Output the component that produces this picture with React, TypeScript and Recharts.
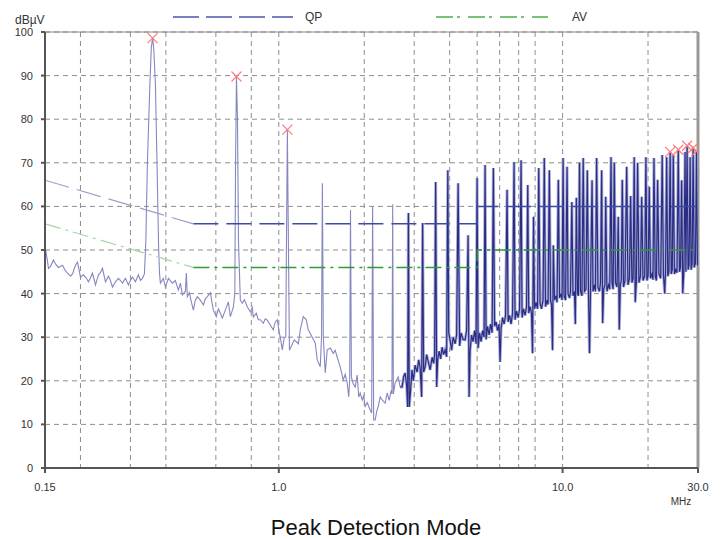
import {
  CartesianGrid,
  ComposedChart,
  Line,
  ReferenceLine,
  Scatter,
  XAxis,
  YAxis,
} from "recharts";

type Pt = [number, number];

// [MHz, dBµV], below ~2.7 MHz (drawn light)
const lowBand: Pt[] = [
  [0.1506, 50.2], [0.153, 47.5], [0.1543, 45.8], [0.1568, 46.2], [0.1606, 47.7],
  [0.1633, 46.8], [0.1673, 46.0], [0.1729, 46.5], [0.1771, 45.2], [0.18, 44.7],
  [0.1845, 44.0], [0.1875, 44.5], [0.1921, 46.5], [0.1953, 47.2], [0.1984, 45.0],
  [0.2, 43.8], [0.2049, 44.3], [0.21, 43.5], [0.2134, 42.7], [0.2169, 43.6],
  [0.2204, 44.7], [0.2259, 42.0], [0.2315, 44.3], [0.2352, 44.8], [0.2391, 45.8],
  [0.245, 42.7], [0.251, 44.0], [0.2551, 43.0], [0.2593, 41.5], [0.2657, 42.7],
  [0.2722, 43.5], [0.2766, 43.0], [0.2812, 42.4], [0.2881, 43.5], [0.2952, 42.0],
  [0.3, 43.0], [0.3049, 43.8], [0.3124, 42.7], [0.3201, 44.3], [0.3253, 43.0],
  [0.3307, 43.5], [0.336, 44.5], [0.34, 52.0], [0.3443, 70.0], [0.3513, 88.0],
  [0.3554, 96.5], [0.3592, 98.6], [0.3627, 96.0], [0.3674, 88.0], [0.3722, 70.0],
  [0.3771, 50.5], [0.38, 44.5], [0.3826, 42.4], [0.392, 43.5], [0.3984, 41.5],
  [0.4083, 43.5], [0.4217, 42.4], [0.432, 43.0], [0.4426, 40.8], [0.4499, 42.4],
  [0.4573, 39.7], [0.4685, 40.5], [0.4723, 44.7], [0.4761, 39.3], [0.4839, 40.2],
  [0.4918, 38.1], [0.4998, 36.2], [0.5081, 38.5], [0.5164, 39.3], [0.5291, 38.5],
  [0.5421, 37.4], [0.551, 38.8], [0.56, 39.3], [0.5738, 40.2], [0.5831, 37.5],
  [0.5879, 36.2], [0.6024, 34.7], [0.6122, 36.5], [0.6222, 35.5], [0.6324, 34.4],
  [0.648, 36.2], [0.664, 38.1], [0.6748, 34.7], [0.6914, 36.9], [0.6999, 40.0],
  [0.704, 70.0], [0.7092, 89.8], [0.715, 80.0], [0.721, 52.0], [0.7317, 38.5],
  [0.7436, 37.8], [0.7559, 38.6], [0.7745, 37.0], [0.7935, 35.8], [0.8065, 36.8],
  [0.8129, 34.6], [0.8331, 35.5], [0.8467, 34.0], [0.8605, 34.0], [0.8818, 33.2],
  [0.8961, 34.2], [0.9107, 33.9], [0.9332, 32.8], [0.9563, 31.7], [0.9718, 33.5],
  [0.9876, 34.0], [1.0037, 31.0], [1.012, 30.0], [1.0285, 27.1], [1.0453, 30.0],
  [1.0581, 30.0], [1.065, 55.0], [1.0719, 77.6], [1.0797, 55.0], [1.09, 27.0],
  [1.1335, 29.4], [1.1724, 28.5], [1.1901, 31.7], [1.2196, 34.7], [1.2494, 34.0],
  [1.27, 31.7], [1.3116, 30.0], [1.3439, 28.7], [1.3658, 24.8], [1.3995, 23.2],
  [1.414, 30.0], [1.424, 65.3], [1.435, 30.0], [1.4574, 21.8], [1.4812, 27.1],
  [1.5177, 27.5], [1.5551, 26.3], [1.5805, 27.0], [1.6062, 25.4], [1.6458, 23.2],
  [1.6864, 20.2], [1.7139, 21.5], [1.7418, 19.5], [1.763, 16.3], [1.777, 20.0],
  [1.789, 59.2], [1.802, 20.9], [1.8288, 19.3], [1.8586, 18.6], [1.8889, 21.3],
  [1.912, 16.3], [1.9355, 17.2], [1.9671, 15.6], [1.991, 16.5], [2.0155, 14.1],
  [2.0483, 15.0], [2.0989, 13.3], [2.124, 12.6], [2.141, 60.1], [2.159, 11.0],
  [2.1857, 11.0], [2.213, 13.0], [2.24, 14.1], [2.2761, 16.3], [2.313, 15.6],
  [2.3703, 14.9], [2.409, 17.2], [2.448, 15.5], [2.488, 17.8], [2.504, 17.0],
  [2.519, 60.5], [2.533, 17.0], [2.5704, 19.5], [2.634, 20.9], [2.6767, 18.6],
];

// [MHz, dBµV] from ~2.7 MHz to 30 MHz (drawn dark)
const highBand: Pt[] = [
  [2.6767, 18.6], [2.72, 18.6], [2.752, 20.9], [2.787, 21.8], [2.821, 19.0],
  [2.844, 14.0], [2.862, 58.5], [2.882, 14.0], [2.914, 18.0], [2.946, 22.5],
  [2.98, 20.0], [3.023, 23.6], [3.072, 22.0], [3.11, 24.8], [3.148, 23.0],
  [3.186, 16.3], [3.212, 56.2], [3.238, 22.0], [3.278, 23.2], [3.318, 26.0],
  [3.359, 24.5], [3.414, 22.5], [3.469, 25.4], [3.512, 24.0], [3.541, 26.0],
  [3.57, 65.6], [3.6, 18.6], [3.629, 24.8], [3.673, 26.8], [3.717, 25.0],
  [3.762, 27.7], [3.808, 26.0], [3.855, 27.1], [3.902, 25.5], [3.94, 68.3],
  [3.969, 31.0], [4.014, 29.4], [4.063, 27.0], [4.113, 30.0], [4.181, 28.5],
  [4.232, 30.5], [4.284, 65.3], [4.336, 28.0], [4.389, 31.0], [4.46, 29.5],
  [4.534, 29.4], [4.589, 31.5], [4.645, 53.4], [4.683, 16.3], [4.721, 27.0],
  [4.779, 30.5], [4.837, 29.0], [4.896, 31.5], [4.956, 28.5], [4.997, 66.5],
  [5.037, 27.5], [5.098, 31.0], [5.161, 29.0], [5.224, 31.5], [5.288, 30.0],
  [5.331, 69.5], [5.375, 29.5], [5.441, 32.5], [5.508, 30.5], [5.575, 33.0],
  [5.644, 31.0], [5.703, 68.8], [5.758, 32.5], [5.829, 33.5], [5.9, 31.5],
  [5.972, 33.0], [6.021, 24.3], [6.069, 32.0], [6.144, 34.5], [6.219, 33.0],
  [6.295, 35.0], [6.373, 63.8], [6.425, 33.5], [6.504, 35.0], [6.582, 33.0],
  [6.663, 35.5], [6.745, 70.2], [6.799, 34.0], [6.882, 36.0], [6.967, 34.5],
  [7.052, 36.5], [7.139, 70.6], [7.197, 34.5], [7.285, 36.5], [7.373, 35.0],
  [7.464, 37.0], [7.537, 64.9], [7.598, 35.5], [7.678, 37.0], [7.772, 35.5],
  [7.836, 26.3], [7.9, 57.6], [7.963, 36.5], [8.061, 38.0], [8.16, 36.5],
  [8.24, 68.8], [8.327, 37.8], [8.428, 36.5], [8.532, 38.5], [8.62, 71.1],
  [8.706, 37.0], [8.813, 38.5], [8.885, 37.5], [8.98, 68.3], [9.067, 38.5],
  [9.141, 37.5], [9.216, 27.0], [9.276, 51.1], [9.366, 38.5], [9.481, 39.5],
  [9.558, 38.0], [9.66, 66.1], [9.756, 39.0], [9.876, 40.0], [9.957, 38.5],
  [10.04, 71.1], [10.12, 39.5], [10.24, 38.5], [10.37, 69.1], [10.45, 40.0],
  [10.58, 39.0], [10.66, 40.5], [10.78, 61.0], [10.88, 39.5], [11.01, 40.5],
  [11.09, 33.0], [11.18, 62.0], [11.28, 40.0], [11.37, 39.5], [11.47, 70.0],
  [11.56, 40.5], [11.7, 39.5], [11.82, 71.1], [11.94, 40.5], [12.09, 41.0],
  [12.22, 68.3], [12.34, 40.0], [12.44, 26.3], [12.54, 40.5], [12.7, 66.0],
  [12.8, 40.5], [12.95, 42.0], [13.05, 40.5], [13.18, 71.1], [13.32, 41.5],
  [13.48, 40.5], [13.6, 42.5], [13.73, 68.3], [13.84, 33.2], [13.95, 41.0],
  [14.1, 42.0], [14.19, 62.2], [14.33, 40.5], [14.51, 42.0], [14.66, 41.0],
  [14.81, 71.3], [14.93, 42.5], [15.07, 41.0], [15.21, 70.0], [15.36, 42.5],
  [15.55, 41.5], [15.71, 57.6], [15.84, 31.7], [15.97, 42.0], [16.1, 43.0],
  [16.23, 66.1], [16.39, 41.5], [16.59, 43.0], [16.82, 69.1], [16.99, 42.0],
  [17.2, 43.5], [17.37, 62.4], [17.55, 42.5], [17.72, 43.5], [17.88, 71.3],
  [18.03, 38.0], [18.2, 43.0], [18.38, 70.0], [18.58, 42.5], [18.81, 44.0],
  [19.0, 62.2], [19.2, 43.0], [19.47, 44.0], [19.66, 71.3], [19.82, 43.0],
  [20.02, 44.2], [20.2, 64.5], [20.4, 43.5], [20.65, 44.5], [20.82, 43.2],
  [20.99, 71.1], [21.2, 44.0], [21.41, 43.0], [21.62, 66.1], [21.85, 44.5],
  [22.17, 43.5], [22.44, 71.8], [22.66, 44.5], [22.9, 40.0], [23.05, 45.0],
  [23.26, 71.3], [23.47, 44.0], [23.7, 45.0], [23.93, 72.5], [24.15, 44.5],
  [24.35, 45.5], [24.55, 71.8], [24.78, 44.5], [25.05, 45.5], [25.3, 44.8],
  [25.56, 73.0], [25.81, 45.0], [26.03, 46.0], [26.27, 66.0], [26.51, 40.0],
  [26.76, 45.5], [27.01, 72.5], [27.19, 45.0], [27.46, 73.9], [27.68, 45.5],
  [27.91, 46.5], [28.14, 71.3], [28.37, 45.5], [28.6, 46.8], [28.84, 73.4],
  [29.09, 46.0], [29.38, 47.0], [29.64, 72.7], [29.86, 46.5], [30.0, 47.0],
];

// peaks flagged with a red cross
const peakMarks: Pt[] = [
  [0.3592, 98.6], [0.7092, 89.8], [1.0719, 77.6], [23.93, 72.5],
  [25.56, 73.0], [27.46, 73.9], [28.84, 73.4], [29.64, 72.7],
];

// limit lines
const qpSlope: Pt[] = [[0.15, 66], [0.5, 56]];
const qpFlat: Pt[] = [[0.5, 56], [5, 56], [5, 60], [30, 60]];
const avSlope: Pt[] = [[0.15, 56], [0.5, 46]];
const avFlat: Pt[] = [[0.5, 46], [5, 46], [5, 50], [30, 50]];

const yTicks = [0, 10, 20, 30, 40, 50, 60, 70, 80, 90, 100];
const xTicks = [0.15, 1, 10, 30];
const gridMHz = [0.2, 0.3, 0.4, 0.5, 0.6, 0.7, 0.8, 0.9, 1, 2, 3, 4, 5, 6, 7, 8, 9, 10, 20];

const rows = (pts: Pt[]) => pts.map(([f, v]) => ({ f, v }));

const FONT = '"Liberation Sans", Arial, Helvetica, sans-serif';

function Cross(props: any) {
  const { cx, cy } = props;
  if (cx == null || cy == null) return null;
  const r = 5;
  return (
    <g stroke="#ff7b7b" strokeWidth={1.2}>
      <line x1={cx - r} y1={cy - r} x2={cx + r} y2={cy + r} />
      <line x1={cx - r} y1={cy + r} x2={cx + r} y2={cy - r} />
    </g>
  );
}

export default function App() {
  return (
    <div
      style={{
        position: "absolute",
        left: 0,
        top: 0,
        width: 725,
        height: 540,
        background: "#fff",
        fontFamily: FONT,
      }}
    >
      <ComposedChart
        width={725}
        height={540}
        margin={{ top: 32, right: 27, bottom: 42, left: 0 }}
      >
        <XAxis
          xAxisId="grid"
          dataKey="f"
          type="number"
          scale="log"
          domain={[0.15, 30]}
          allowDataOverflow
          ticks={gridMHz}
          hide
        />
        <CartesianGrid xAxisId="grid" stroke="#8e8e8e" strokeDasharray="5 4" />
        <XAxis
          dataKey="f"
          type="number"
          scale="log"
          domain={[0.15, 30]}
          allowDataOverflow
          ticks={xTicks}
          interval={0}
          tickFormatter={(v: number) => (v === 0.15 ? "0.15" : v.toFixed(1))}
          height={30}
          tickSize={5}
          tickMargin={10}
          stroke="#555"
          strokeWidth={2}
          tick={{ fill: "#333", fontSize: 11, fontFamily: FONT }}
        />
        <YAxis
          type="number"
          domain={[0, 100]}
          ticks={yTicks}
          interval={0}
          width={45}
          tickSize={4}
          tickMargin={8}
          stroke="#555"
          strokeWidth={2}
          tick={{ fill: "#333", fontSize: 11, fontFamily: FONT }}
        />
        <ReferenceLine y={100} stroke="#888" />
        <ReferenceLine x={30} stroke="#999" strokeWidth={3} />

        <Line
          data={rows(lowBand)}
          dataKey="v"
          stroke="#8587c0"
          strokeWidth={1.1}
          dot={false}
          isAnimationActive={false}
        />
        <Line
          data={rows(highBand)}
          dataKey="v"
          stroke="#aeb0d8"
          strokeWidth={3}
          dot={false}
          isAnimationActive={false}
        />
        <Line
          data={rows(highBand)}
          dataKey="v"
          stroke="#2a2d84"
          strokeWidth={1.2}
          dot={false}
          isAnimationActive={false}
        />

        <Line
          data={rows(qpSlope)}
          dataKey="v"
          stroke="#9aa0cc"
          strokeWidth={1.2}
          strokeDasharray="25 8"
          dot={false}
          isAnimationActive={false}
        />
        <Line
          data={rows(qpFlat)}
          dataKey="v"
          stroke="#3d4aa3"
          strokeWidth={1.5}
          strokeDasharray="25 8"
          dot={false}
          isAnimationActive={false}
        />
        <Line
          data={rows(avSlope)}
          dataKey="v"
          stroke="#a6d4a6"
          strokeWidth={1.2}
          strokeDasharray="16 5 3 5"
          dot={false}
          isAnimationActive={false}
        />
        <Line
          data={rows(avFlat)}
          dataKey="v"
          stroke="#2f9a38"
          strokeWidth={1.4}
          strokeDasharray="16 5 3 5"
          dot={false}
          isAnimationActive={false}
        />
        <Scatter
          data={rows(peakMarks)}
          dataKey="v"
          shape={<Cross />}
          isAnimationActive={false}
        />
      </ComposedChart>

      <svg
        width={725}
        height={540}
        style={{ position: "absolute", left: 0, top: 0, pointerEvents: "none" }}
        fontFamily={FONT}
      >
        <text x={15} y={24} fontSize={12} fill="#333">
          dBµV
        </text>
        <line x1={173} y1={17} x2={293} y2={17} stroke="#4b56a6" strokeWidth={1.5} strokeDasharray="26 7" />
        <text x={305} y={21} fontSize={12} fill="#333">
          QP
        </text>
        <line x1={436} y1={17} x2={548} y2={17} stroke="#4caf50" strokeWidth={1.5} strokeDasharray="17 4 3 8" />
        <text x={572} y={21} fontSize={12} fill="#333">
          AV
        </text>
        <text x={681} y={505} fontSize={10} fill="#333" textAnchor="middle">
          MHz
        </text>
        <text x={376} y={535} fontSize={22} fill="#111" textAnchor="middle">
          Peak Detection Mode
        </text>
      </svg>
    </div>
  );
}
